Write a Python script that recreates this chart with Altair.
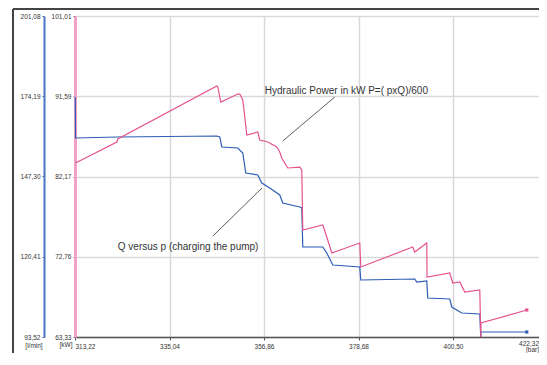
import altair as alt
import pandas as pd

# ---- data ----
# pressure (bar) and hydraulic power (kW)
pink_x = [313.34, 322.87, 323.10, 345.96, 346.19, 346.88, 350.80, 351.27, 351.96, 352.42,
          352.88, 355.42, 355.88, 357.73, 359.81, 360.50, 360.96, 362.35, 365.12, 365.58,
          365.81, 370.43, 371.35, 372.51, 378.97, 379.20, 391.21, 391.67, 394.44, 394.50,
          399.75, 400.44, 402.06, 403.21, 406.68, 406.91, 406.95, 417.53]
pink_kw = [83.75, 86.22, 86.57, 92.79, 92.68, 90.91, 91.85, 91.85, 91.15, 89.15,
           87.04, 87.39, 86.45, 86.22, 85.63, 85.05, 84.34, 83.17, 83.28, 82.93,
           75.89, 76.48, 75.07, 73.19, 74.36, 71.55, 73.89, 73.31, 74.36, 70.37,
           70.84, 69.67, 69.79, 68.61, 68.85, 63.33, 64.97, 66.50]
# pressure (bar) and flow (l/min)
blue_x = [313.29, 313.34, 323.10, 345.96, 346.65, 347.11, 350.80, 351.96, 352.65, 355.42,
          356.35, 358.19, 360.50, 361.19, 365.12, 365.58, 365.81, 370.43, 371.35, 372.74,
          378.97, 379.20, 391.67, 392.13, 394.44, 394.67, 399.75, 400.21, 402.52, 406.68,
          406.91, 406.95, 417.53]
blue_q = [173.94, 160.20, 160.54, 160.87, 160.54, 157.19, 156.85, 155.17, 148.47, 147.80,
          145.12, 143.45, 141.10, 138.42, 137.08, 136.75, 123.68, 123.68, 121.67, 117.65,
          116.98, 112.62, 112.95, 111.95, 112.28, 106.59, 106.25, 103.57, 101.56, 101.23,
          93.52, 95.20, 95.20]

x_ticks = [313.22, 335.04, 356.86, 378.68, 400.50]
x_last_label = "422,32"
q_ticks = [93.52, 120.41, 147.30, 174.19, 201.08]
kw_ticks = [63.33, 72.76, 82.17, 91.59, 101.01]

annot_text = ["Hydraulic Power in kW P=( pxQ)/600", "Q versus p (charging the pump)"]
annot_x = [357.05, 323.10]
annot_y = [92.21, 73.89]
lead_x = [361.19, 345.07]
lead_y = [86.34, 75.19]
lead_x2 = [373.20, 356.39]
lead_y2 = [91.50, 80.82]

# ---- styling ----
BLUE = "#2c5db4"
PINK = "#e4538f"
FONT = "Liberation Sans"
comma = "replace(format(datum.value, '.2f'), '.', ',')"

W, H = 464, 321
x_scale = alt.Scale(domain=[313.22, 420.35], nice=False, zero=False)
q_scale = alt.Scale(domain=[93.52, 201.08], nice=False, zero=False)
kw_scale = alt.Scale(domain=[63.33, 101.01], nice=False, zero=False)

x_axis = alt.Axis(values=x_ticks, labelExpr=comma, title=None, grid=True,
                  gridColor="#d9d9d9", gridWidth=1.5, domainColor="#555555",
                  domainWidth=1.5, tickColor="#555555", tickSize=3,
                  labelFontSize=6.5, labelFont=FONT, labelColor="#333333",
                  labelFlush=True, labelPadding=3)

pink_df = pd.DataFrame({"x": pink_x, "kw": pink_kw, "i": range(len(pink_x))})
blue_df = pd.DataFrame({"x": blue_x, "q": blue_q, "i": range(len(blue_x))})

blue_line = alt.Chart(blue_df).mark_line(color=BLUE, strokeWidth=1.2).encode(
    x=alt.X("x:Q", scale=x_scale, axis=x_axis),
    y=alt.Y("q:Q", scale=q_scale,
            axis=alt.Axis(orient="left", offset=31, values=q_ticks, labelExpr=comma,
                          title=None, grid=False, domainColor="#4a74c4", domainWidth=2,
                          tickColor="#666666", tickSize=2, labelPadding=2,
                          labelFontSize=6.5, labelFont=FONT, labelColor="#333333")),
    order="i:Q",
)
blue_end = alt.Chart(blue_df.tail(1)).mark_square(color=BLUE, size=10, opacity=1).encode(
    x=alt.X("x:Q", scale=x_scale), y=alt.Y("q:Q", scale=q_scale))
blue = alt.layer(blue_line, blue_end)

pink_line = alt.Chart(pink_df).mark_line(color=PINK, strokeWidth=1.2).encode(
    x=alt.X("x:Q", scale=x_scale, axis=x_axis),
    y=alt.Y("kw:Q", scale=kw_scale,
            axis=alt.Axis(orient="left", offset=0, values=kw_ticks, labelExpr=comma,
                          title=None, grid=True, gridColor="#d9d9d9", gridWidth=1.5,
                          domainColor="#f2a0c6", domainWidth=3,
                          tickColor="#666666", tickSize=2, labelPadding=2,
                          labelFontSize=6.5, labelFont=FONT, labelColor="#333333")),
    order="i:Q",
)
pink_end = alt.Chart(pink_df.tail(1)).mark_square(color=PINK, size=10, opacity=1).encode(
    x=alt.X("x:Q", scale=x_scale), y=alt.Y("kw:Q", scale=kw_scale))

annot_df = pd.DataFrame({"t": annot_text, "x": annot_x, "y": annot_y})
annot = alt.Chart(annot_df).mark_text(align="left", baseline="middle", fontSize=10,
                                      font=FONT, color="#333333").encode(
    x=alt.X("x:Q", scale=x_scale), y=alt.Y("y:Q", scale=kw_scale), text="t:N")

lead_df = pd.DataFrame({"x": lead_x, "y": lead_y, "x2": lead_x2, "y2": lead_y2})
leaders = alt.Chart(lead_df).mark_rule(color="#333333", strokeWidth=0.8).encode(
    x=alt.X("x:Q", scale=x_scale), y=alt.Y("y:Q", scale=kw_scale), x2="x2:Q", y2="y2:Q")

pink = alt.layer(pink_line, pink_end, annot, leaders)


def label(txt, x, y, align="center"):
    return alt.Chart(pd.DataFrame({"t": [txt]})).mark_text(
        align=align, baseline="middle", fontSize=6.5, font=FONT, color="#333333"
    ).encode(text="t:N", x=alt.value(x), y=alt.value(y))


units = [
    label("[l/min]", -41, 330),
    label("[kW]", -9, 329),
    label(x_last_label, W, 328, "right"),
    label("[bar]", W, 334, "right"),
]

frame_df = pd.DataFrame({"a": [0]})
frame_left = alt.Chart(frame_df).mark_rule(color="#444444", strokeWidth=2).encode(
    x=alt.value(-62), y=alt.value(-7), y2=alt.value(345))
frame_top = alt.Chart(frame_df).mark_rule(color="#444444", strokeWidth=2).encode(
    x=alt.value(-62), x2=alt.value(W + 10), y=alt.value(-7))

chart = alt.layer(blue, pink, *units, frame_left, frame_top).resolve_scale(
    y="independent"
).properties(
    width=W, height=H,
    autosize=alt.AutoSizeParams(type="none"),
    padding={"left": 67, "top": 8, "right": 0, "bottom": 16},
    background="white",
).configure_view(strokeWidth=0)

chart.save("out.html", embed_options={"renderer": "svg", "actions": False})
